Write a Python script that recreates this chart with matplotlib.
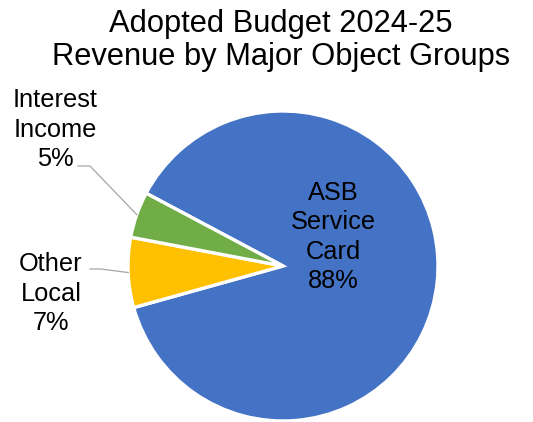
import matplotlib
matplotlib.use('Agg')

import numpy as np
import matplotlib.pyplot as plt

plt.rcParams['font.family'] = ['Liberation Sans', 'DejaVu Sans']

# Revenue shares (percent), drawn clockwise
categories = ['ASB\nService\nCard', 'Other\nLocal', 'Interest\nIncome']
shares = [87.9, 7.3, 4.8]
colors = ['#4472C4', '#FFC000', '#70AD47']

W, H = 533, 422
cx, cy, R = 283, 266, 155  # pie centre and radius, pixels

fig = plt.figure(figsize=(W / 100, H / 100), dpi=100)
fig.patch.set_facecolor('white')
ax = fig.add_axes([(cx - R) / W, (H - cy - R) / H, 2 * R / W, 2 * R / H])

wedges, _ = ax.pie(shares, colors=colors, startangle=152, counterclock=False,
                   radius=1, wedgeprops=dict(edgecolor='white', linewidth=2.4))
# pie() resets the limits, so set them afterwards
ax.set_xlim(-1, 1)
ax.set_ylim(-1, 1)
ax.axis('off')

LABEL_SIZE = 18.3
LINE_SP = 1.28


def px(x, y):
    # pixel position -> data units of the pie axes
    return (x - cx) / R, (cy - y) / R


def label(i):
    return f"{categories[i]}\n{shares[i]:.0f}%"


# inside label for the big slice (anchored on the baseline of its last line)
tx, ty = px(333, 288)
ax.text(tx, ty, label(0), ha='center', va='baseline', fontsize=LABEL_SIZE, linespacing=LINE_SP)

# outside labels with leader lines
outside = [
    # index, label pos, leader start, leader elbow
    (2, (55, 166), (78, 166), (90, 166)),
    (1, (51, 330), (90, 269), (101, 269)),
]
for i, lab, start, elbow in outside:
    w = wedges[i]
    mid = np.deg2rad((w.theta1 + w.theta2) / 2)
    ex, ey = np.cos(mid), np.sin(mid)
    sx, sy = px(*start)
    bx, by = px(*elbow)
    ax.plot([sx, bx, ex], [sy, by, ey], color='#A6A6A6', lw=0.9, clip_on=False)
    lx, ly = px(*lab)
    ax.text(lx, ly, label(i), ha='center', va='baseline', fontsize=LABEL_SIZE, linespacing=LINE_SP)

fig.text(0.527, 1 - 32 / H, "Adopted Budget 2024-25", ha='center', va='baseline', fontsize=22.2)
fig.text(0.527, 1 - 65 / H, "Revenue by Major Object Groups", ha='center', va='baseline', fontsize=22.2)

fig.savefig('out.png', dpi=100, facecolor='white')
